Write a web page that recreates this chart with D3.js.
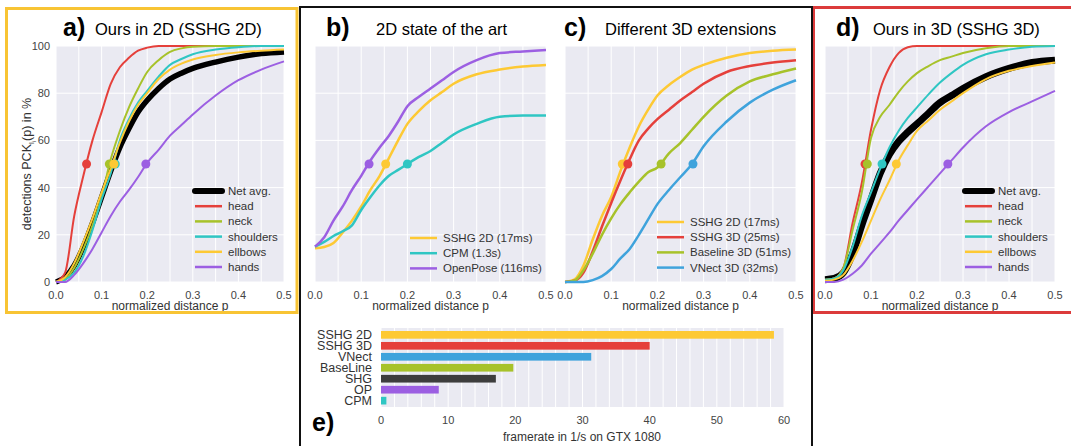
<!DOCTYPE html>
<html>
<head>
<meta charset="utf-8">
<script src="https://cdn.jsdelivr.net/npm/d3@7"></script>
<style>
body { margin: 0; background: #fff; }
svg text { font-family: "Liberation Sans", Arial, sans-serif; }
</style>
</head>
<body>
<svg id="chart" width="1071" height="446"></svg>
<script>
// shared sample positions (normalized distance p)
const P = [0, .02, .04, .06, .08, .10, .12, .14, .16, .18, .20, .225, .25, .275, .30, .35, .40, .45, .50]

// a) Ours in 2D
const aNames = ["Net avg.", "head", "neck", "shoulders", "ellbows", "hands"]
const aNet = [0, 2, 7, 15, 25, 36, 47, 57, 65, 72, 77, 82, 86, 88.5, 90.5, 93.2, 95.3, 96.8, 97.5]
const aHead = [0, 4, 28, 45, 60, 72, 84, 91, 95, 98, 99.3, 100, 100, 100, 100, 100, 100, 100, 100]
const aNeck = [0, 1, 6, 14, 24, 36, 52, 64, 74, 82, 89, 94, 97.5, 99, 99.7, 100, 100, 100, 100]
const aShoulders = [0, 1, 4, 11, 22, 35, 46, 60, 69, 76, 81, 87, 92, 94.5, 96.5, 98.5, 99.5, 100, 100]
const aEllbows = [0, 2, 8, 17, 27, 38, 48, 59, 68, 75, 80, 86, 90, 92.5, 94.3, 96.2, 97.3, 98, 98.5]
const aHands = [0, 0, 3, 8, 14, 21, 28, 34, 39, 44.5, 50.5, 56, 62, 66.5, 71, 79, 85.5, 90, 93.5]
const aMarks = [null, .067, .117, .130, .127, .197]

// b) 2D state of the art
const bNames = ["SSHG 2D (17ms)", "CPM (1.3s)", "OpenPose (116ms)"]
const bSSHG = [14.3, 14.8, 16.5, 21, 26, 32, 39, 45, 52.5, 60, 67, 72.5, 77, 80.5, 84, 88, 90, 91.3, 92]
const bCPM = [15, 17, 19.5, 21.5, 24, 30.5, 36, 41, 45, 47.5, 50, 53, 55.5, 59, 62.5, 67, 70, 70.5, 70.5]
const bOpenPose = [15, 19, 26, 32, 39, 45, 51.5, 57, 62, 68, 74.5, 78.5, 82, 85.5, 89, 94, 97, 97.7, 98.3]
const bMarks = [.153, .200, .117]

// c) Different 3D extensions
const cNames = ["SSHG 2D (17ms)", "SSHG 3D (25ms)", "Baseline 3D (51ms)", "VNect 3D (32ms)"]
const cSSHG2D = [0, 1, 7, 18, 28, 36, 47, 57, 66, 73, 79, 83.5, 87, 90, 92, 95, 97, 98, 98.5]
const cSSHG3D = [0, .5, 4, 13, 23.5, 33.5, 43, 52, 60, 65, 69, 73, 77, 80.5, 84, 89, 91.5, 93, 94]
const cBaseline = [0, .5, 5, 12, 20, 27, 33, 38, 42.5, 46.5, 48.5, 54.5, 59, 64.5, 70, 79, 85, 88, 90.5]
const cVNect = [0, 0, 0, .8, 2.5, 5.5, 10, 14, 20, 26.5, 33, 39, 44.5, 50, 57.5, 68, 76, 81.5, 85.5]
const cMarks = [.124, .136, .208, .277]

// d) Ours in 3D
const dNet = [1, 1.5, 4, 12, 24, 35, 46, 54, 59.5, 63.5, 67, 71.5, 76, 79, 82, 87, 90.5, 93, 94]
const dHead = [1, 1.5, 6, 25, 42, 64.5, 81.5, 91, 97, 99.5, 100, 100, 100, 100, 100, 100, 100, 100, 100]
const dNeck = [1, 1.5, 6, 22, 38, 61, 70, 75, 80.5, 85, 88.5, 91.5, 94, 95.5, 97, 99, 100, 100, 100]
const dShoulders = [1, 1.5, 5, 15, 28, 38, 48, 57, 64, 69.5, 74, 79.5, 84.5, 88.5, 92, 96.5, 98.5, 99.7, 100]
const dEllbows = [.5, 1, 3, 9, 17, 26, 35, 43, 51.5, 58, 64, 68.5, 73, 76.5, 80, 86, 89.5, 91.5, 93]
const dHands = [0, 0, 1, 3.5, 7, 12, 16.5, 21, 26, 30.5, 35, 40.5, 46, 51.5, 57, 66, 72, 76.5, 81]
const dMarks = [null, .087, .092, .124, .155, .267]

// e) framerate
const eNames = ["SSHG 2D", "SSHG 3D", "VNect", "BaseLine", "SHG", "OP", "CPM"]
const eFps = [58.5, 40, 31.3, 19.7, 17.1, 8.6, 0.8]

const col = {
    red: "#e5403b", green: "#a7c22a", cyan: "#2fc6c3", yellow: "#fdc934",
    purple: "#9c5fe2", blue: "#3fa3dc", black: "#000", dark: "#3d3d3d"
}
const bodyCols = [col.black, col.red, col.green, col.cyan, col.yellow, col.purple]

const svg = d3.select("#chart")
const plotTop = 46, plotBottom = 282

function drawPanel(cfg) {
    const g = svg.append("g")
    const x = d3.scaleLinear().domain([0, 0.5]).range([cfg.x0, cfg.x1])
    const y = d3.scaleLinear().domain([0, 100]).range([plotBottom, plotTop])

    g.append("rect")
        .attr("x", cfg.x0).attr("y", plotTop)
        .attr("width", cfg.x1 - cfg.x0).attr("height", plotBottom - plotTop)
        .attr("fill", "#eaeaf2")

    g.selectAll(".vg").data(d3.range(0, 0.5001, 0.05)).join("line")
        .attr("x1", d => x(d)).attr("x2", d => x(d))
        .attr("y1", plotTop).attr("y2", plotBottom)
        .attr("stroke", "#fff").attr("stroke-width", 1)
    g.selectAll(".hg").data(d3.range(0, 101, 20)).join("line")
        .attr("x1", cfg.x0).attr("x2", cfg.x1)
        .attr("y1", d => y(d)).attr("y2", d => y(d))
        .attr("stroke", "#fff").attr("stroke-width", 1)

    g.selectAll(".xt").data(d3.range(0, 0.5001, 0.1)).join("text")
        .attr("x", d => x(d)).attr("y", 299)
        .attr("text-anchor", "middle").attr("font-size", 11).attr("fill", "#444")
        .text(d3.format(".1f"))
    g.append("text")
        .attr("x", (cfg.x0 + cfg.x1) / 2).attr("y", 309.5)
        .attr("text-anchor", "middle").attr("font-size", 12).attr("fill", "#333")
        .text("normalized distance p")

    if (cfg.yTicks) {
        g.selectAll(".yt").data(d3.range(0, 101, 20)).join("text")
            .attr("x", cfg.x0 - 6).attr("y", d => y(d) + 4)
            .attr("text-anchor", "end").attr("font-size", 11).attr("fill", "#444")
            .text(d => d)
    }

    const line = d3.line().x((d, i) => x(P[i])).y(d => y(d)).curve(d3.curveMonotoneX)
    cfg.series.forEach((s, i) => {
        g.append("path").datum(s)
            .attr("d", line)
            .attr("fill", "none")
            .attr("stroke", cfg.colors[i])
            .attr("stroke-width", cfg.widths[i])
            .attr("stroke-linejoin", "round")
    })
    cfg.marks.forEach((m, i) => {
        if (m == null) return
        g.append("circle")
            .attr("cx", x(m)).attr("cy", y(50)).attr("r", 4.5)
            .attr("fill", cfg.colors[i])
    })

    // legend
    cfg.names.forEach((n, i) => {
        const ly = cfg.legY + i * 15.2
        g.append("line")
            .attr("x1", cfg.legX).attr("x2", cfg.legX + 27)
            .attr("y1", ly).attr("y2", ly)
            .attr("stroke", cfg.colors[i])
            .attr("stroke-width", cfg.widths[i] > 4 ? 6 : 2.5)
            .attr("stroke-linecap", cfg.widths[i] > 4 ? "round" : "butt")
        g.append("text")
            .attr("x", cfg.legX + 33).attr("y", ly + 4)
            .attr("font-size", 11.5).attr("fill", "#333")
            .text(n)
    })

    g.append("text")
        .attr("x", cfg.tagX).attr("y", 36)
        .attr("font-size", 25).attr("font-weight", "bold")
        .text(cfg.tag)
    g.append("text")
        .attr("x", cfg.titleX).attr("y", 35)
        .attr("font-size", 16.5)
        .text(cfg.title)
}

drawPanel({
    x0: 56, x1: 284, yTicks: true,
    series: [aNet, aHead, aNeck, aShoulders, aEllbows, aHands],
    colors: bodyCols, widths: [5.5, 2, 2, 2, 2, 2], marks: aMarks,
    names: aNames, legX: 195, legY: 191,
    tag: "a)", tagX: 63, title: "Ours in 2D (SSHG 2D)", titleX: 95
})
drawPanel({
    x0: 315, x1: 546,
    series: [bSSHG, bCPM, bOpenPose],
    colors: [col.yellow, col.cyan, col.purple], widths: [2.5, 2.5, 2.5], marks: bMarks,
    names: bNames, legX: 410, legY: 238,
    tag: "b)", tagX: 326, title: "2D state of the art", titleX: 376
})
drawPanel({
    x0: 565, x1: 796,
    series: [cSSHG2D, cSSHG3D, cBaseline, cVNect],
    colors: [col.yellow, col.red, col.green, col.blue], widths: [2.5, 2.5, 2.5, 2.5], marks: cMarks,
    names: cNames, legX: 657, legY: 222,
    tag: "c)", tagX: 564, title: "Different 3D extensions", titleX: 605
})
drawPanel({
    x0: 825, x1: 1055,
    series: [dNet, dHead, dNeck, dShoulders, dEllbows, dHands],
    colors: bodyCols, widths: [7, 2, 2, 2, 2, 2], marks: dMarks,
    names: aNames, legX: 965, legY: 191,
    tag: "d)", tagX: 836, title: "Ours in 3D (SSHG 3D)", titleX: 873
})

// y axis label of panel a
const yl = svg.append("text")
    .attr("transform", "translate(31,164) rotate(-90)")
    .attr("text-anchor", "middle").attr("font-size", 12.5).attr("fill", "#333")
yl.append("tspan").text("detections PCK")
yl.append("tspan").attr("font-size", 8).attr("dy", 3).text("l")
yl.append("tspan").attr("font-size", 6).attr("dy", 1.5).text("i")
yl.append("tspan").attr("dy", -4.5).text("(p) in %")

// e) bar chart
const ex = d3.scaleLinear().domain([0, 60]).range([381, 784])
const ey = d3.scaleBand().domain(eNames).range([331, 404.5]).paddingInner(0.3).paddingOuter(0)
const eCols = [col.yellow, col.red, col.blue, col.green, col.dark, col.purple, col.cyan]
const eg = svg.append("g")
eg.append("rect").attr("x", 381).attr("y", 328).attr("width", 403).attr("height", 79).attr("fill", "#eaeaf2")
eg.selectAll(".eg").data(d3.range(0, 61, 2)).join("line")
    .attr("x1", d => ex(d)).attr("x2", d => ex(d))
    .attr("y1", 328).attr("y2", 407)
    .attr("stroke", "#fff").attr("stroke-width", 1)
eg.selectAll(".bar").data(eFps).join("rect")
    .attr("x", ex(0)).attr("y", (d, i) => ey(eNames[i]))
    .attr("width", d => ex(d) - ex(0)).attr("height", ey.bandwidth())
    .attr("fill", (d, i) => eCols[i])
eg.selectAll(".yl").data(eNames).join("text")
    .attr("x", 372).attr("y", d => ey(d) + ey.bandwidth() / 2 + 4.5)
    .attr("text-anchor", "end").attr("font-size", 12.5).attr("fill", "#333")
    .text(d => d)
eg.selectAll(".xt").data(d3.range(0, 61, 10)).join("text")
    .attr("x", d => ex(d)).attr("y", 424)
    .attr("text-anchor", "middle").attr("font-size", 11).attr("fill", "#444")
    .text(d => d)
eg.append("text").attr("x", 582).attr("y", 440.5)
    .attr("text-anchor", "middle").attr("font-size", 12).attr("fill", "#333")
    .text("framerate in 1/s on GTX 1080")
eg.append("text").attr("x", 312).attr("y", 431)
    .attr("font-size", 25).attr("font-weight", "bold").text("e)")

// frames
svg.append("rect").attr("x", 6.5).attr("y", 8.5).attr("width", 290.5).attr("height", 304)
    .attr("fill", "none").attr("stroke", "#f8c434").attr("stroke-width", 3)
svg.append("rect").attr("x", 813.5).attr("y", 7.5).attr("width", 270).attr("height", 305)
    .attr("fill", "none").attr("stroke", "#dc3b3b").attr("stroke-width", 3)
svg.append("path").attr("d", "M300,447V7H812V447")
    .attr("fill", "none").attr("stroke", "#111").attr("stroke-width", 2)
</script>
</body>
</html>
